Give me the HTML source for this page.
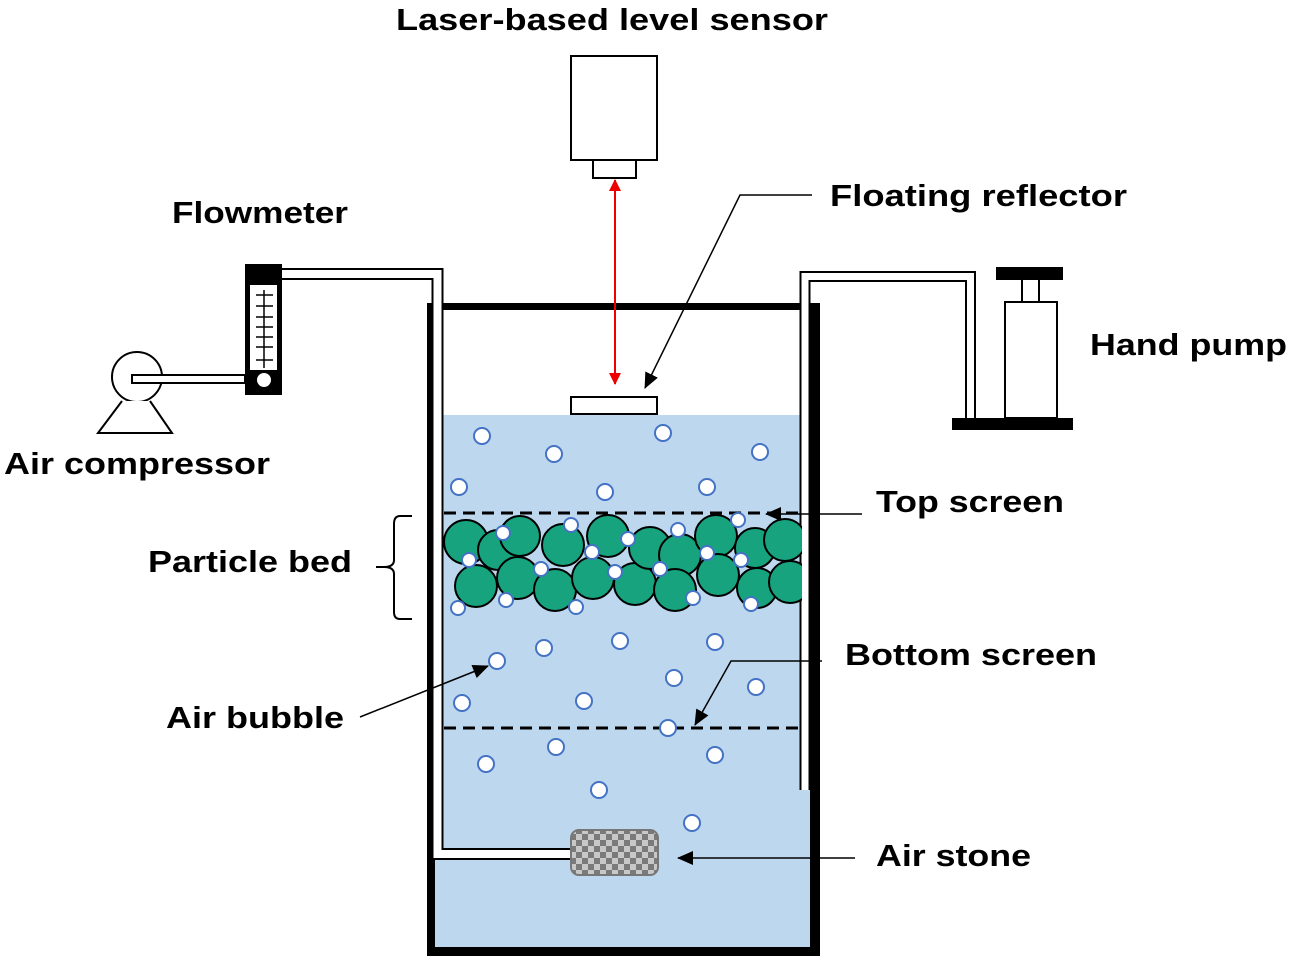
<!DOCTYPE html>
<html><head><meta charset="utf-8"><style>
body{margin:0;background:#fff}
text{font-family:"Liberation Sans",Arial,sans-serif;font-weight:bold;font-size:31px;fill:#000}
</style></head><body>
<svg width="1292" height="960" viewBox="0 0 1292 960" xmlns="http://www.w3.org/2000/svg">
<defs>
<pattern id="chk" width="12" height="12" patternUnits="userSpaceOnUse">
<rect width="12" height="12" fill="#c8c8c8"/><rect width="6" height="6" fill="#7a7a7a"/><rect x="6" y="6" width="6" height="6" fill="#7a7a7a"/>
</pattern>
<clipPath id="inner"><rect x="442" y="415" width="360" height="533"/></clipPath>
<marker id="ah" markerWidth="16" markerHeight="14" refX="15" refY="7" orient="auto" markerUnits="userSpaceOnUse"><path d="M0,0 L16,7 L0,14z" fill="#000"/></marker>
<marker id="rh" markerWidth="12" markerHeight="12" refX="11" refY="6" orient="auto" markerUnits="userSpaceOnUse"><path d="M0,0 L12,6 L0,12z" fill="#e00"/></marker>
</defs>
<rect x="435" y="415" width="375" height="533" fill="#bdd7ee"/>
<rect x="427" y="303" width="8" height="653" fill="#000"/>
<rect x="810" y="303" width="10" height="653" fill="#000"/>
<rect x="427" y="947" width="393" height="9" fill="#000"/>
<rect x="442" y="303" width="358" height="7" fill="#000"/>
<path d="M282,274 H437.5 V854 H572" fill="none" stroke="#000" stroke-width="12"/>
<path d="M282,274 H437.5 V854 H572" fill="none" stroke="#fff" stroke-width="8"/>
<path d="M805,790 V276.5 H970.5 V418" fill="none" stroke="#000" stroke-width="11"/>
<path d="M805,790 V276.5 H970.5 V418" fill="none" stroke="#fff" stroke-width="7"/>
<line x1="444" y1="513" x2="800" y2="513" stroke="#000" stroke-width="3" stroke-dasharray="12,7"/>
<line x1="444" y1="728" x2="800" y2="728" stroke="#000" stroke-width="3" stroke-dasharray="12,7"/>
<g clip-path="url(#inner)" fill="#18a37f" stroke="#000" stroke-width="2">
<circle cx="466" cy="542" r="22"/><circle cx="498" cy="550" r="20"/><circle cx="520" cy="536" r="20"/>
<circle cx="476" cy="586" r="21"/><circle cx="518" cy="578" r="21"/><circle cx="555" cy="590" r="21"/>
<circle cx="563" cy="545" r="21"/><circle cx="608" cy="536" r="21"/><circle cx="593" cy="578" r="21"/>
<circle cx="635" cy="584" r="21"/><circle cx="650" cy="548" r="21"/><circle cx="680" cy="555" r="21"/>
<circle cx="675" cy="590" r="21"/><circle cx="716" cy="536" r="21"/><circle cx="718" cy="575" r="21"/>
<circle cx="755" cy="548" r="20"/><circle cx="757" cy="588" r="20"/><circle cx="785" cy="540" r="21"/><circle cx="790" cy="582" r="21"/>
</g>
<g fill="#fff" stroke="#4472c4" stroke-width="2">
<circle cx="482" cy="436" r="8"/><circle cx="554" cy="454" r="8"/><circle cx="663" cy="433" r="8"/><circle cx="760" cy="452" r="8"/>
<circle cx="459" cy="487" r="8"/><circle cx="605" cy="492" r="8"/><circle cx="707" cy="487" r="8"/>
<circle cx="503" cy="533" r="7"/><circle cx="571" cy="525" r="7"/><circle cx="628" cy="539" r="7"/><circle cx="678" cy="530" r="7"/><circle cx="738" cy="520" r="7"/>
<circle cx="469" cy="560" r="7"/><circle cx="592" cy="552" r="7"/><circle cx="707" cy="553" r="7"/><circle cx="541" cy="569" r="7"/><circle cx="660" cy="569" r="7"/><circle cx="615" cy="572" r="7"/><circle cx="741" cy="560" r="7"/>
<circle cx="458" cy="608" r="7"/><circle cx="506" cy="600" r="7"/><circle cx="576" cy="607" r="7"/><circle cx="693" cy="598" r="7"/><circle cx="751" cy="604" r="7"/>
<circle cx="497" cy="661" r="8"/><circle cx="544" cy="648" r="8"/><circle cx="620" cy="641" r="8"/><circle cx="715" cy="642" r="8"/>
<circle cx="462" cy="703" r="8"/><circle cx="584" cy="701" r="8"/><circle cx="674" cy="678" r="8"/><circle cx="756" cy="687" r="8"/>
<circle cx="668" cy="728" r="8"/><circle cx="556" cy="747" r="8"/><circle cx="715" cy="755" r="8"/><circle cx="486" cy="764" r="8"/>
<circle cx="599" cy="790" r="8"/><circle cx="692" cy="823" r="8"/>
</g>
<rect x="571" y="830" width="87" height="45" rx="8" fill="url(#chk)" stroke="#777" stroke-width="2"/>
<rect x="571" y="56" width="86" height="104" fill="#fff" stroke="#000" stroke-width="2"/>
<rect x="593" y="160" width="43" height="18" fill="#fff" stroke="#000" stroke-width="2"/>
<line x1="615" y1="190" x2="615" y2="384" stroke="#e00" stroke-width="2" marker-end="url(#rh)"/>
<line x1="615" y1="384" x2="615" y2="180" stroke="#e00" stroke-width="2" marker-end="url(#rh)"/>
<rect x="571" y="397" width="86" height="17" fill="#fff" stroke="#000" stroke-width="2"/>
<rect x="245" y="264" width="37" height="131" fill="#000"/>
<rect x="250" y="285" width="27" height="85" fill="#fff"/>
<line x1="264" y1="290" x2="264" y2="368" stroke="#000" stroke-width="1.5"/>
<g stroke="#000" stroke-width="1.5"><line x1="256" y1="295" x2="273" y2="295"/><line x1="256" y1="306" x2="273" y2="306"/><line x1="256" y1="317" x2="273" y2="317"/><line x1="256" y1="327" x2="273" y2="327"/><line x1="256" y1="337" x2="273" y2="337"/><line x1="256" y1="347" x2="273" y2="347"/><line x1="256" y1="360" x2="273" y2="360"/></g>
<circle cx="264" cy="380" r="7" fill="#fff"/>
<circle cx="137" cy="377" r="25" fill="#fff" stroke="#000" stroke-width="2"/>
<path d="M122,401 L98,433 L172,433 L150,401" fill="#fff" stroke="#000" stroke-width="2"/>
<rect x="132" y="375" width="113" height="8" fill="#fff" stroke="#000" stroke-width="2"/>
<rect x="952" y="418" width="121" height="12" fill="#000"/>
<rect x="1005" y="302" width="52" height="116" fill="#fff" stroke="#000" stroke-width="2"/>
<line x1="1022" y1="280" x2="1022" y2="302" stroke="#000" stroke-width="2"/><line x1="1039" y1="280" x2="1039" y2="302" stroke="#000" stroke-width="2"/>
<rect x="996" y="267" width="67" height="13" fill="#000"/>
<path d="M412,516 H400 Q394,516 394,524 V560 Q394,567 384,567 H376 M384,567 Q394,567 394,574 V612 Q394,619 400,619 H412" fill="none" stroke="#000" stroke-width="2"/>
<g stroke="#000" stroke-width="1.5" fill="none">
<path d="M812,195 H740 L645,388" marker-end="url(#ah)"/>
<path d="M862,514 H766" marker-end="url(#ah)"/>
<path d="M822,661 H731 L695,725" marker-end="url(#ah)"/>
<path d="M360,717 L488,666" marker-end="url(#ah)"/>
<path d="M855,858 H678" marker-end="url(#ah)"/>
</g>
<text x="396" y="30" textLength="432" lengthAdjust="spacingAndGlyphs">Laser-based level sensor</text>
<text x="830" y="206" textLength="297" lengthAdjust="spacingAndGlyphs">Floating reflector</text>
<text x="172" y="223" textLength="176" lengthAdjust="spacingAndGlyphs">Flowmeter</text>
<text x="1090" y="355" textLength="197" lengthAdjust="spacingAndGlyphs">Hand pump</text>
<text x="4" y="474" textLength="266" lengthAdjust="spacingAndGlyphs">Air compressor</text>
<text x="876" y="512" textLength="188" lengthAdjust="spacingAndGlyphs">Top screen</text>
<text x="148" y="572" textLength="204" lengthAdjust="spacingAndGlyphs">Particle bed</text>
<text x="845" y="665" textLength="252" lengthAdjust="spacingAndGlyphs">Bottom screen</text>
<text x="166" y="728" textLength="178" lengthAdjust="spacingAndGlyphs">Air bubble</text>
<text x="876" y="866" textLength="155" lengthAdjust="spacingAndGlyphs">Air stone</text>
</svg>
</body></html>
